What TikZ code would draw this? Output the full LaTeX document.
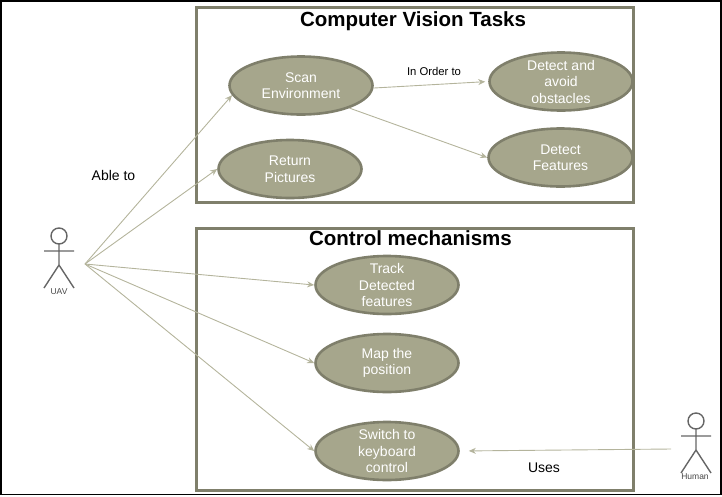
\documentclass[tikz,border=0pt]{standalone}
\usepackage{fontspec}
\setmainfont{Liberation Sans}
\usetikzlibrary{shapes.geometric,arrows.meta}
\definecolor{boxc}{HTML}{7F7F6B}
\definecolor{fillc}{HTML}{A6A68C}
\definecolor{linec}{HTML}{B4B49C}
\definecolor{actc}{HTML}{666666}
\tikzset{
  x=1pt,y=-1pt,
  usecase/.style={ellipse,draw=boxc,fill=fillc,line width=2.6pt,inner xsep=-40pt,inner ysep=-30pt,minimum width=#1,minimum height=58pt,text=white,align=center,font=\fontsize{14}{16.5}\selectfont},
  usecase/.default=143pt,
  group/.style={draw=boxc,line width=3pt},
  link/.style={draw=linec,line width=0.9pt,-{Stealth[length=7pt,width=6pt]}},
  title/.style={font=\fontsize{20.5}{22}\bfseries\selectfont,text=black,inner sep=0pt},
  lbl/.style={font=\fontsize{14}{16}\selectfont,text=black,inner sep=0pt},
  small/.style={font=\fontsize{8.5}{10}\selectfont,text=actc!70!black,inner sep=0pt},
  actor/.style={draw=actc,line width=1.4pt},
}
\begin{document}
\begin{tikzpicture}
\useasboundingbox (0,0) rectangle (722,496);
\draw[black,line width=1.5pt] (0.75,0.75) rectangle (721,494.5);
\draw[group] (196,7) rectangle (633,202);
\draw[group] (196,228) rectangle (633,490);
\node[title] (t1) at (413,21) {Computer Vision Tasks};
\node[title] (t2) at (410.5,238) {Control mechanisms};
\node[usecase] (scan) at (301,85.5) {Scan\\Environment};
\node[usecase] (avoid) at (561,81.5) {Detect and\\avoid\\obstacles};
\node[usecase=144pt] (feat) at (560.5,157.5) {Detect\\Features};
\node[usecase] (ret) at (290,169) {Return\\Pictures};
\node[usecase] (track) at (387,285) {Track\\Detected\\features};
\node[usecase] (map) at (387,363) {Map the\\position};
\node[usecase] (switch) at (387,451) {Switch to\\keyboard\\control};
% UAV actor
\draw[actor] (59,236) circle (8);
\draw[actor] (44,251) -- (74,251) (59,244) -- (59,265) -- (44,288) (59,265) -- (74,288);
\node[small] (uavl) at (59,292) {UAV};
\coordinate (hub) at (85,264);
% Human actor
\draw[actor] (696,421) circle (8);
\draw[actor] (681,436) -- (711,436) (696,429) -- (696,450) -- (681,473) (696,450) -- (711,473);
\node[small] (huml) at (695,477) {Human};
\coordinate (hum) at (671,449);
% connectors
\draw[link] (hub) -- (scan.188);
\draw[link] (hub) -- (ret.west);
\draw[link] (hub) -- (track.west);
\draw[link] (hub) -- (map.west);
\draw[link] (hub) -- (switch.west);
\draw[link,shorten >=3pt] (scan.358) -- (avoid.west);
\draw[link] (scan.335) -- (feat.west);
\draw[link,shorten >=9pt] (hum) -- (switch.east);
\node[lbl] (able) at (113.5,175) {Able to};
\node[lbl,font=\fontsize{11.3}{13}\selectfont] (order) at (434,71) {In Order to};
\node[lbl] (uses) at (544,468) {Uses};
\end{tikzpicture}
\end{document}
